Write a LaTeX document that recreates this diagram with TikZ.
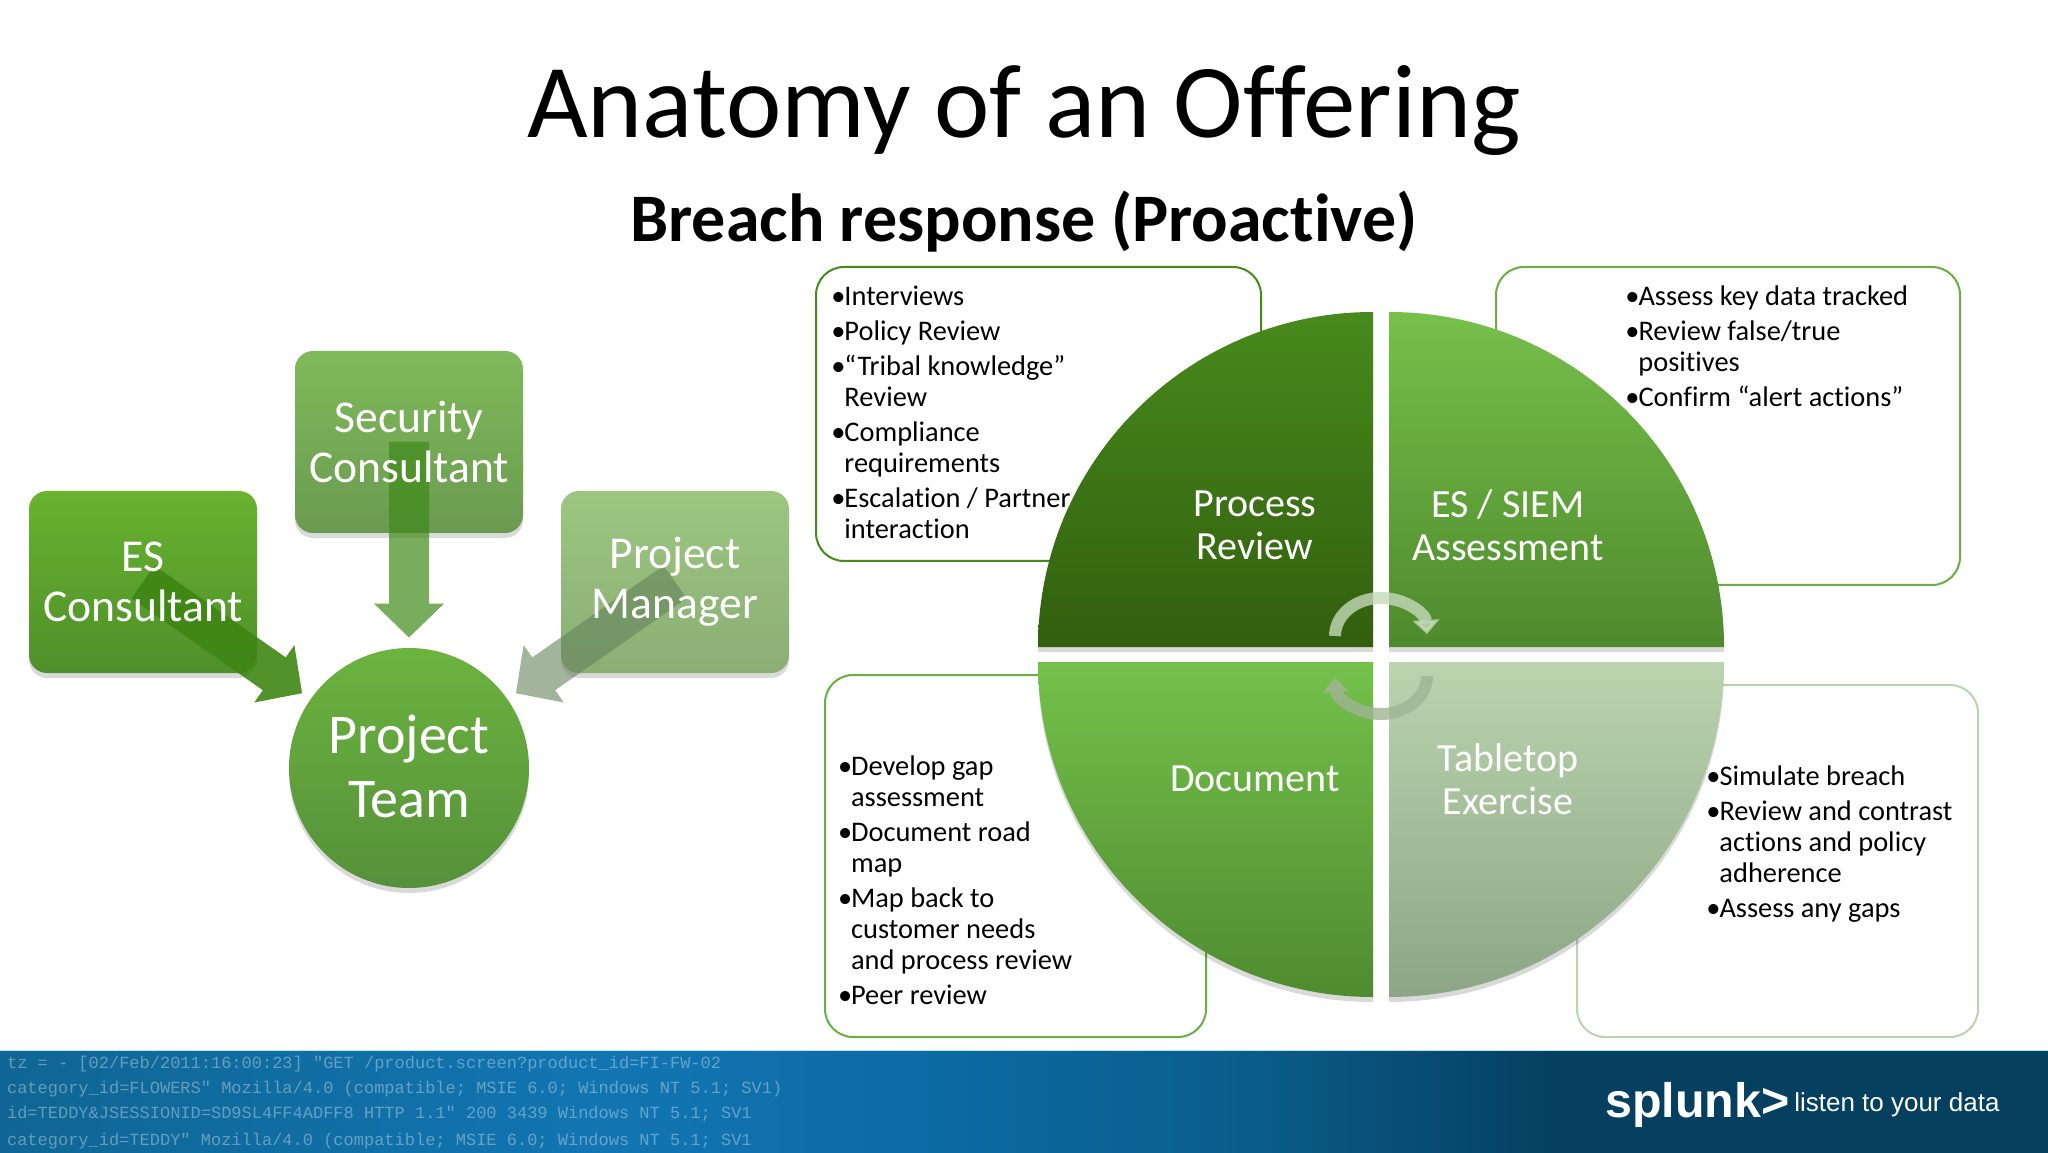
\documentclass[tikz,border=0pt]{standalone}
\usepackage{fontspec}
\setmainfont{Carlito}[Ligatures=NoCommon]
\setsansfont{Liberation Sans}
\setmonofont{Liberation Mono}
\usetikzlibrary{arrows.meta,shadows}

\pgfdeclarehorizontalshading{bandshade}{100bp}{
  rgb(0bp)=(0.06,0.40,0.58);
  rgb(25bp)=(0.06,0.40,0.58);
  rgb(40bp)=(0.07,0.46,0.70);
  rgb(47bp)=(0.05,0.42,0.65);
  rgb(55bp)=(0.04,0.37,0.55);
  rgb(63bp)=(0.02,0.25,0.38);
  rgb(75bp)=(0.02,0.25,0.37);
  rgb(100bp)=(0.02,0.25,0.37)}

\newcommand{\bl}{\makebox[6.5pt][l]{\textbullet}}
\newcommand{\ind}{\hspace*{6.5pt}}

\tikzset{
  softshadow/.style={general shadow={fill=black,opacity=.15,shadow yshift=-2.5pt}},
  boxnode/.style={rounded corners=9pt,minimum width=114pt,minimum height=91pt,softshadow},
  labelnode/.style={text=white,align=center,font=\fontsize{22.8}{25}\selectfont},
  teamnode/.style={circle,minimum size=120pt,softshadow,top color=green1,bottom color=green1d},
  flowarrow/.style={line width=20pt,shorten >=5pt,-{Triangle[length=17pt,width=34pt]}},
  callout/.style={draw,fill=white,line width=1pt,rounded corners=14pt,anchor=north west},
  listnode/.style={align=left,anchor=north west,font=\fontsize{14.2}{15.5}\selectfont},
  quadlabel/.style={text=white,align=center,font=\fontsize{20}{21.5}\selectfont},
  cyclearrow/.style={line width=6pt,opacity=.8,-{Triangle[length=7pt,width=13pt]}},
  logline/.style={anchor=west,text=white,text opacity=.35,font=\ttfamily\fontsize{8.5}{10}\selectfont}
}
\definecolor{green1}{HTML}{6CB33F}
\definecolor{green1d}{HTML}{55913A}
\definecolor{esT}{HTML}{68B32F}
\definecolor{esB}{HTML}{4F8F2A}
\definecolor{secT}{HTML}{80BA5A}
\definecolor{secB}{HTML}{6A9A50}
\definecolor{pmT}{HTML}{9CC680}
\definecolor{pmB}{HTML}{8BAE75}
\definecolor{prT}{HTML}{478A1C}
\definecolor{prB}{HTML}{325F0E}
\definecolor{siemT}{HTML}{76C04B}
\definecolor{siemB}{HTML}{4E8A2C}
\definecolor{docT}{HTML}{74C14A}
\definecolor{docB}{HTML}{4F8B30}
\definecolor{tabT}{HTML}{BBD4AE}
\definecolor{tabB}{HTML}{8CA585}
\definecolor{esarrow}{HTML}{3E8614}
\definecolor{secarrow}{HTML}{3F8A1A}
\definecolor{pmarrow}{HTML}{64825A}

\begin{document}
\begin{tikzpicture}[x=.5pt,y=.5pt]
  \useasboundingbox (0,0) rectangle (2048,1152);

  % Title
  \node (title) at (1024,1042) {\fontsize{52.4}{60}\selectfont Anatomy of an Offering};
  \node[below of=title,node distance=56pt] (subtitle) {\fontsize{34}{40}\selectfont\bfseries Breach response (Proactive)};

  % Team nodes
  \node[teamnode] (team) at (409,384) {};
  \node[boxnode,above of=team,node distance=163pt,top color=secT,bottom color=secB] (sec) {};
  \node[boxnode,left of=team,node distance=133pt,yshift=93pt,top color=esT,bottom color=esB] (es) {};
  \node[boxnode,right of=team,node distance=133pt,yshift=93pt,top color=pmT,bottom color=pmB] (pm) {};

  % Team arrows
  \begin{scope}[transparency group,opacity=.9]
    \draw[flowarrow,color=esarrow] (es.center) -- (team);
  \end{scope}
  \begin{scope}[transparency group,opacity=.7]
    \draw[flowarrow,color=secarrow] (sec.center) -- (team);
  \end{scope}
  \begin{scope}[transparency group,opacity=.6]
    \draw[flowarrow,color=pmarrow] (pm.center) -- (team);
  \end{scope}

  % Team labels
  \node[labelnode] at (es.center) {ES\\Consultant};
  \node[labelnode] at (sec.center) {Security\\Consultant};
  \node[labelnode] at (pm.center) {Project\\Manager};
  \node[labelnode,font=\fontsize{28}{32}\selectfont] at ([yshift=1pt]team.center) {Project\\Team};

  % Callouts
  \node[callout,draw=prT,minimum width=222.5pt,minimum height=147pt] (reviewbox) at (815,886) {};
  \node[callout,draw=siemT!90!black,minimum width=232pt,minimum height=159pt] (siembox) at (1495,886) {};
  \node[callout,draw=docT!90!black,minimum width=190.5pt,minimum height=181pt] (docbox) at (824,478) {};
  \node[callout,draw=tabT,minimum width=200.5pt,minimum height=176pt] (tabbox) at (1576,468) {};

  % Quadrants
  \shade[softshadow,top color=prT,bottom color=prB] (1373,505) -- (1038,505) arc (180:90:335) -- cycle;
  \shade[softshadow,top color=siemT,bottom color=siemB] (1389,505) -- (1389,840) arc (90:0:335) -- cycle;
  \shade[softshadow,top color=docT,bottom color=docB] (1373,490) -- (1038,490) arc (180:270:335) -- cycle;
  \shade[softshadow,top color=tabT,bottom color=tabB] (1389,490) -- (1724,490) arc (0:-90:335) -- cycle;
  \node[quadlabel] at (1255,627) {Process\\Review};
  \node[quadlabel] at (1508,627) {ES / SIEM\\Assessment};
  \node[quadlabel] at (1255,373) {Document};
  \node[quadlabel] at (1508,373) {Tabletop\\Exercise};

  % Cycle arrows
  \draw[cyclearrow,color=tabT!85!white] (1335,516) arc (180:3:46 and 38);
  \draw[cyclearrow,color=tabT!85!black] (1427,476) arc (0:-177:46 and 38);

  % Lists
  \node[listnode] (reviewlist) at ([xshift=4.7pt,yshift=-6.5pt]reviewbox.north west) {\bl Interviews\\[2pt]
    \bl Policy Review\\[2pt]
    \bl “Tribal knowledge”\\\ind Review\\[2pt]
    \bl Compliance\\\ind requirements\\[2pt]
    \bl Escalation / Partner\\\ind interaction};
  \node[listnode] (siemlist) at ([xshift=61.7pt,yshift=-6.5pt]siembox.north west) {\bl Assess key data tracked\\[2pt]
    \bl Review false/true\\\ind positives\\[2pt]
    \bl Confirm “alert actions”};
  \node[listnode] (doclist) at ([xshift=3.5pt,yshift=-37.5pt]docbox.north west) {\bl Develop gap\\\ind assessment\\[2pt]
    \bl Document road\\\ind map\\[2pt]
    \bl Map back to\\\ind customer needs\\\ind and process review\\[2pt]
    \bl Peer review};
  \node[listnode] (tablist) at ([xshift=61.7pt,yshift=-37.5pt]tabbox.north west) {\bl Simulate breach\\[2pt]
    \bl Review and contrast\\\ind actions and policy\\\ind adherence\\[2pt]
    \bl Assess any gaps};

  % Footer
  \shade[shading=bandshade] (0,0) rectangle (2048,101);
  \fill[color=cyan!30!white] (0,101) rectangle (2048,102);
  \node[logline] (logline1) at (0,88) {tz = - [02/Feb/2011:16:00:23] "GET /product.screen?product\_id=FI-FW-02};
  \node[logline] (logline2) at (0,63) {category\_id=FLOWERS" Mozilla/4.0 (compatible; MSIE 6.0; Windows NT 5.1; SV1)};
  \node[logline] (logline3) at (0,38) {id=TEDDY\&JSESSIONID=SD9SL4FF4ADFF8 HTTP 1.1" 200 3439 Windows NT 5.1; SV1};
  \node[logline] (logline4) at (0,11) {category\_id=TEDDY" Mozilla/4.0 (compatible; MSIE 6.0; Windows NT 5.1; SV1};
  \node[anchor=west,text=white,font=\sffamily\bfseries\fontsize{24.2}{28}\selectfont] (logo) at (1598,47) {splunk>};
  \node[right of=logo,anchor=west,node distance=45pt,text=white,font=\sffamily\fontsize{13}{15}\selectfont] (tagline) {listen to your data};
\end{tikzpicture}
\end{document}
